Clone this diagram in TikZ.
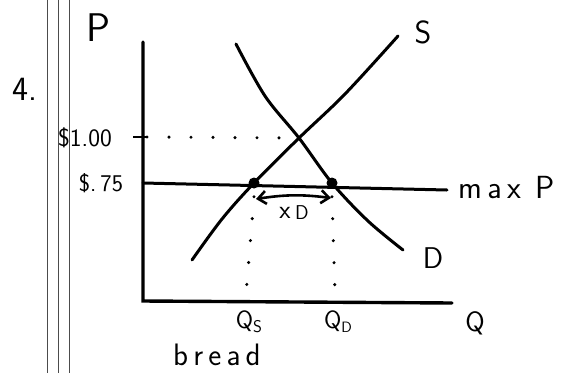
\documentclass[tikz,border=0pt]{standalone}
\usepackage{fontspec}
\usetikzlibrary{arrows.meta}
\begin{document}
\begin{tikzpicture}[x=1pt,y=-1pt,
  curve/.style={line width=3pt,line cap=round},
  axis/.style={line width=3.4pt,line cap=round},
  rule/.style={line width=0.9pt,black!70},
  dotline/.style={line width=3.4pt,line cap=round,dash pattern=on 0pt off 22pt},
  lbl/.style={font=\sffamily,inner sep=0pt},
  pt/.style={circle,fill=black,inner sep=0pt,minimum size=11pt}]
\useasboundingbox (0,0) rectangle (584,373);
% margin rules
\draw[rule] (47.5,0) -- (47.5,373);
\draw[rule] (58,0) -- (58,373);
\draw[rule] (69,0) -- (69,373);
% axes
\coordinate (top) at (143,42);
\coordinate (orig) at (143,301);
\coordinate (qend) at (452,303);
\draw[axis] (top) -- (orig) -- (qend);
% labels
\node[lbl,font=\sffamily\fontsize{40}{40}\selectfont] (P) at (98,28) {P};
\node[lbl,font=\sffamily\fontsize{34}{34}\selectfont] (four) at (25,89) {4.};
\node[lbl,font=\sffamily\fontsize{25}{25}\selectfont] (p100) at (85,138) {\$1.00};
\node[lbl,font=\sffamily\fontsize{24}{24}\selectfont] (p75) at (101,183) {\$.\,75};
% price ceiling
\coordinate (c0) at (143,183);
\coordinate (c1) at (447,190);
\draw[curve] (c0) -- (c1);
\node[lbl,anchor=west,font=\sffamily\fontsize{32}{32}\selectfont] (maxP) at (458,188) {m\,a\,x\;\,P};
% tick and dotted at 1.00
\coordinate (t0) at (133,137);
\coordinate (t1) at (147,137);
\coordinate (eq) at (299,138);
\draw[line width=2.8pt] (t0) -- (t1);
\draw[dotline] (t1) -- (eq);
% supply
\draw[curve] plot[smooth,tension=0.55] coordinates {(192,260) (222,219) (254,183) (299,138) (345,94) (398,36)};
\node[lbl,font=\sffamily\fontsize{32}{32}\selectfont] (S) at (423,32) {S};
% demand
\draw[curve] plot[smooth,tension=0.55] coordinates {(236,44) (265,96) (299,138) (332,183) (368,221) (403,250)};
\node[lbl,font=\sffamily\fontsize{30}{30}\selectfont] (D) at (433,258) {D};
% points
\node[pt] (qs) at (254,183) {};
\node[pt] (qd) at (332,183) {};
% shortage arrow
\coordinate (a0) at (256,199);
\coordinate (a1) at (331,198);
\draw[line width=2.6pt,{Straight Barb[length=8pt,width=13pt]}-{Straight Barb[length=8pt,width=13pt]}] (a0) to[bend left=8] (a1);
\node[lbl,font=\sffamily\fontsize{26}{26}\selectfont] (xd) at (294,213) {x\,\raisebox{-1pt}{\fontsize{20}{20}\selectfont D}};
% dotted verticals
\coordinate (qsb) at (246,294);
\coordinate (qdb) at (335,294);
\draw[dotline] (qs.south) ++(0,8) -- (qsb);
\draw[dotline] (qd.south) ++(0,8) -- (qdb);
% axis labels
\node[lbl,font=\sffamily\fontsize{25}{25}\selectfont] (Qs) at (249,322) {Q\raisebox{-4pt}{\fontsize{17}{17}\selectfont S}};
\node[lbl,font=\sffamily\fontsize{25}{25}\selectfont] (Qd) at (338,322) {Q\raisebox{-4pt}{\fontsize{15}{15}\selectfont D}};
\node[lbl,font=\sffamily\fontsize{28}{28}\selectfont] (Q) at (475,323) {Q};
\node[lbl,font=\sffamily\fontsize{31}{31}\selectfont] (bread) at (217,355) {b\,r\,e\,a\,d};
\end{tikzpicture}
\end{document}
